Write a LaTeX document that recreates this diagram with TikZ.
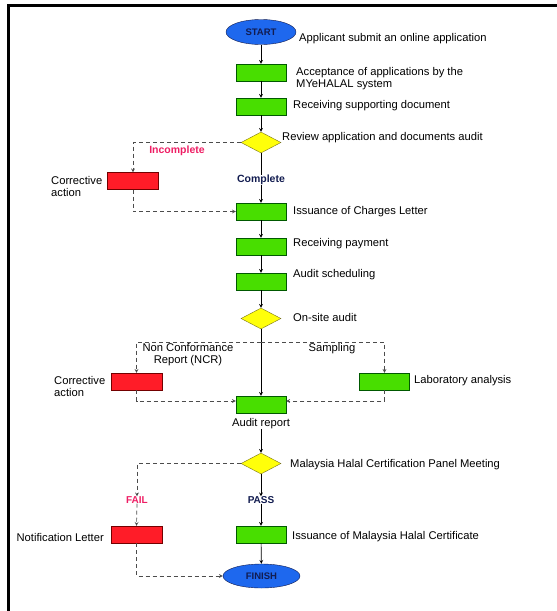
\documentclass[tikz,border=0pt]{standalone}
\usepackage{fontspec}
\setmainfont{Liberation Sans}
\usetikzlibrary{shapes.geometric}
\definecolor{boxgreen}{RGB}{72,222,0}
\definecolor{boxred}{RGB}{255,28,40}
\definecolor{dyellow}{RGB}{255,255,10}
\definecolor{termblue}{RGB}{30,104,238}
\definecolor{navy}{RGB}{18,28,80}
\definecolor{failpink}{RGB}{238,30,100}
\tikzset{
  greenbox/.style={draw=green!35!black, fill=boxgreen, minimum width=50pt, minimum height=17pt, inner sep=0pt},
  redbox/.style={draw=red!45!black, fill=boxred, minimum width=51pt, minimum height=17pt, inner sep=0pt},
  decision/.style={diamond, aspect=1.9, draw=olive!80!black, fill=dyellow, minimum width=40pt, minimum height=21pt, inner sep=0pt},
  terminal/.style={ellipse, draw=navy, fill=termblue, text=navy, font=\fontsize{9.5}{10}\selectfont\bfseries, inner sep=0pt},
  lbl/.style={font=\fontsize{11.2}{12}\selectfont, inner sep=0pt},
  flow/.style={->, >=stealth, line width=0.7pt},
  dflow/.style={->, >=stealth, line width=0.7pt, dash pattern=on 4pt off 3pt, black!70}
}
\begin{document}
\begin{tikzpicture}[x=1pt, y=-1pt]%
   \useasboundingbox (0,0) rectangle (557,611);
   \draw[line width=3pt] (8,611) -- (8,5) -- (557,5);
   \node[terminal, minimum width=70pt, minimum height=25pt] (start) at (261,32) {START};
   \node[greenbox] (accept) at (261,72.5) {};
   \node[greenbox] (supdoc) at (261,106.5) {};
   \node[decision] (review) at (261,142.5) {};
   \node[redbox] (corr1) at (133,181) {};
   \node[lbl, font=\fontsize{10.5}{12}\selectfont\bfseries, text=navy] (complete) at (261,180) {Complete};
   \node[greenbox] (charges) at (261,211.5) {};
   \node[greenbox] (payment) at (261,246.5) {};
   \node[greenbox] (sched) at (261,281.5) {};
   \node[decision] (onsite) at (261,318.5) {};
   \coordinate (split) at (261,342);
   \node[redbox] (corr2) at (136.5,381.5) {};
   \node[greenbox] (lab) at (384.5,381.5) {};
   \node[greenbox] (report) at (261,404.5) {};
   \node[lbl, anchor=north] (reportlbl) at (261,418) {Audit report};
   \node[decision] (panel) at (261,463.5) {};
   \node[lbl, font=\fontsize{10}{11}\selectfont\bfseries, text=failpink] (fail) at (137,500) {FAIL};
   \node[lbl, font=\fontsize{10}{11}\selectfont\bfseries, text=navy] (pass) at (261,500) {PASS};
   \node[redbox] (notif) at (136.5,534.5) {};
   \node[greenbox] (cert) at (261,534.5) {};
   \node[terminal, minimum width=77pt, minimum height=24pt] (finish) at (261.5,576) {FINISH};

   \node[lbl, anchor=west] (t1) at (299,39) {Applicant submit an online application};
   \node[lbl, anchor=west, align=left] (t2) at (296,79) {Acceptance of applications by the\\MYeHALAL system};
   \node[lbl, anchor=west] (t3) at (293,106) {Receiving supporting document};
   \node[lbl, anchor=west] (t4) at (282,138) {Review application and documents audit};
   \node[lbl, font=\fontsize{10.5}{12}\selectfont\bfseries, text=failpink] (incomplete) at (177,150.5) {Incomplete};
   \node[lbl, anchor=west, align=left] (t5) at (51,186) {Corrective\\action};
   \node[lbl, anchor=west] (t6) at (293,212) {Issuance of Charges Letter};
   \node[lbl, anchor=west] (t7) at (293,244) {Receiving payment};
   \node[lbl, anchor=west] (t8) at (293,275) {Audit scheduling};
   \node[lbl, anchor=west] (t9) at (293,317) {On-site audit};
   \node[lbl, align=center] (ncr) at (188,355) {Non Conformance\\Report (NCR)};
   \node[lbl] (sampling) at (332,349) {Sampling};
   \node[lbl, anchor=west, align=left] (t10) at (54,386) {Corrective\\action};
   \node[lbl, anchor=west] (t11) at (414,381) {Laboratory analysis};
   \node[lbl, anchor=west] (t12) at (290,465) {Malaysia Halal Certification Panel Meeting};
   \node[lbl, anchor=east] (t13) at (104,537) {Notification Letter};
   \node[lbl, anchor=west] (t14) at (292,537) {Issuance of Malaysia Halal Certificate};

   \draw[flow] (start) -- (accept);
   \draw[flow] (accept) -- (supdoc);
   \draw[flow] (supdoc) -- (review);
   \draw[line width=0.7pt] (review) -- (complete);
   \draw[flow] (complete) -- (charges);
   \draw[dflow] (review.west) -| (corr1.north);
   \draw[dflow] (corr1.south) |- (charges.west);
   \draw[flow] (charges) -- (payment);
   \draw[flow] (payment) -- (sched);
   \draw[flow] (sched) -- (onsite);
   \draw[flow] (onsite) -- (report);
   \draw[dflow] (split) -| (corr2.north);
   \draw[dflow] (split) -| (lab.north);
   \draw[dflow] (corr2.south) |- ([yshift=3.5pt]report.west);
   \draw[dflow] (lab.south) |- ([yshift=3.5pt]report.east);
   \draw[flow] (reportlbl) -- (panel);
   \draw[dflow] (panel.west) -| (fail.north);
   \draw[dflow] (fail.south) -- (notif.north);
   \draw[flow] (panel) -- (pass);
   \draw[flow] (pass) -- (cert);
   \draw[dflow] (notif.south) |- (finish.west);
   \draw[flow] (cert) -- (finish);
\end{tikzpicture}
\end{document}
